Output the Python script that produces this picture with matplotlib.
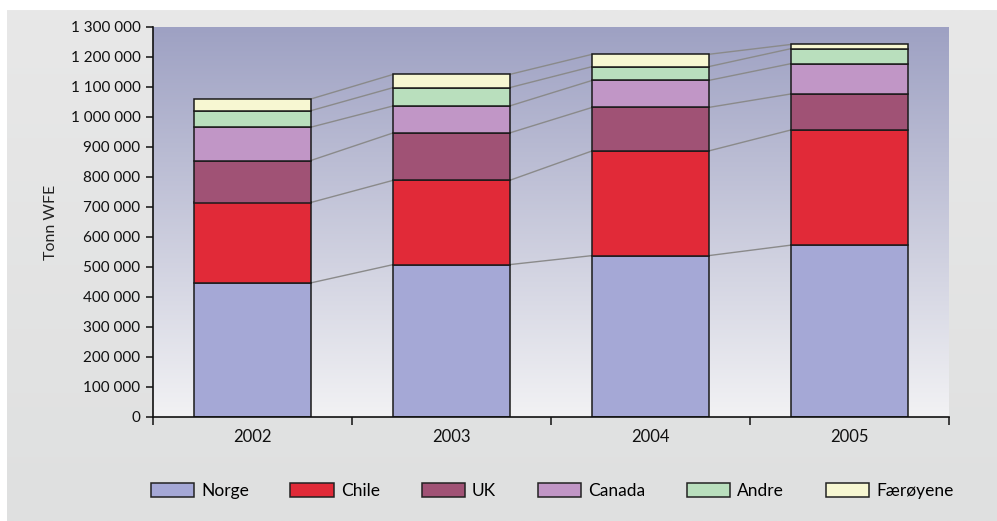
import numpy as np
import matplotlib
matplotlib.use("Agg")
import matplotlib.pyplot as plt
from matplotlib.patches import Patch
from matplotlib.ticker import FuncFormatter, MultipleLocator, FixedLocator

plt.rcParams['font.family'] = ['Lato', 'DejaVu Sans']

years = ["2002", "2003", "2004", "2005"]
series_names = ["Norge", "Chile", "UK", "Canada", "Andre", "Færøyene"]
norge = [447000, 508000, 538000, 573000]
chile = [268000, 281000, 349000, 384000]
uk = [140000, 158000, 145000, 120000]
canada = [111000, 90000, 90000, 101000]
andre = [55000, 61000, 46000, 50000]
faeroyene = [39000, 44000, 41000, 14000]
colors = ["#a5a8d6", "#e12a38", "#a05275", "#c196c6", "#b9dfbd", "#f7f7d2"]

data = [norge, chile, uk, canada, andre, faeroyene]

fig = plt.figure(figsize=(9.97, 5.21), dpi=100, facecolor="white")

# outer gray panel with subtle gradient
bg = fig.add_axes([7/997, 0, 1 - 7/997, (521 - 10)/521], zorder=-10)
grad = np.linspace(0, 1, 256).reshape(-1, 1)
c_top = np.array([0xe8, 0xe8, 0xe8]) / 255
c_bot = np.array([0xdf, 0xe0, 0xe0]) / 255
img = c_top[None, None, :] * (1 - grad[:, :, None]) + c_bot[None, None, :] * grad[:, :, None]
bg.imshow(img, aspect="auto", extent=[0, 1, 0, 1])
bg.set_axis_off()

ax = fig.add_axes([153/997, (521 - 417)/521, (949 - 153)/997, (417 - 27)/521])
ax.set_facecolor("none")

ymax = 1300000
x = np.arange(len(years))
ax.set_xlim(-0.5, len(years) - 0.5)
ax.set_ylim(0, ymax)

# plot-area gradient
p_top = np.array([0x9e, 0xa1, 0xc3]) / 255
p_bot = np.array([0xf2, 0xf2, 0xf4]) / 255
pimg = p_top[None, None, :] * (1 - grad[:, :, None]) + p_bot[None, None, :] * grad[:, :, None]
ax.imshow(pimg, aspect="auto", extent=[-0.5, len(years) - 0.5, 0, ymax], zorder=0)

width = 0.586
bottom = np.zeros(len(years))
tops = []
for vals, col, name in zip(data, colors, series_names):
    vals = np.array(vals, dtype=float)
    ax.bar(x, vals, width, bottom=bottom, color=col, edgecolor="#1a1a1a",
           linewidth=1.1, zorder=3, label=name)
    bottom = bottom + vals
    tops.append(bottom.copy())

# connector lines
for t in tops:
    for i in range(len(years) - 1):
        ax.plot([x[i] + width/2, x[i+1] - width/2], [t[i], t[i+1]],
                color="#8a8a8a", linewidth=1.0, zorder=2)

ax.spines["top"].set_visible(False)
ax.spines["right"].set_visible(False)
for s in ("left", "bottom"):
    ax.spines[s].set_color("#111111")
    ax.spines[s].set_linewidth(1.2)
    ax.spines[s].set_zorder(4)

ax.yaxis.set_major_locator(MultipleLocator(100000))
ax.yaxis.set_major_formatter(FuncFormatter(lambda v, p: f"{int(v):,}".replace(",", " ")))
ax.tick_params(axis="y", direction="out", length=5, width=1.1, labelsize=11,
               colors="#111111", pad=4)

ax.set_xticks(x)
ax.set_xticklabels(years)
ax.xaxis.set_minor_locator(FixedLocator(np.arange(-0.5, len(years), 1.0)))
ax.tick_params(axis="x", which="major", length=0, labelsize=12, pad=9, colors="#111111")
ax.tick_params(axis="x", which="minor", direction="out", length=6, width=1.1, color="#111111")

ax.set_ylabel("Tonn WFE", fontsize=11.5, color="#222222", labelpad=9)

handles = [Patch(facecolor=c, edgecolor="#222222", linewidth=1.1, label=n)
           for c, n in zip(colors, series_names)]
fig.legend(handles=handles, loc="center", bbox_to_anchor=(552/997, 1 - 491/521),
           ncol=6, frameon=False, fontsize=12.5, handlelength=2.5, handleheight=0.8,
           handletextpad=0.4, columnspacing=2.4)

fig.savefig("out.png", dpi=100, facecolor=fig.get_facecolor())
